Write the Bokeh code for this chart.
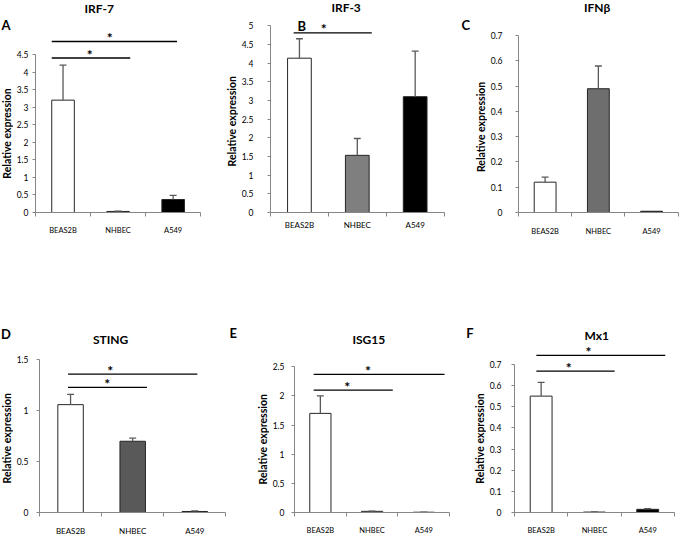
import math
from bokeh.plotting import figure
from bokeh.layouts import row, column
from bokeh.models import Range1d, FixedTicker, CustomJSTickFormatter, Label
from bokeh.embed import file_html
from bokeh.resources import INLINE
from bokeh.core.properties import value

# ---------------- data ----------------
cells = ["BEAS2B", "NHBEC", "A549"]

irf7 = [3.20, 0.03, 0.37]
irf7_err = [1.00, 0.01, 0.12]
irf3 = [4.13, 1.53, 3.10]
irf3_err = [0.52, 0.45, 1.22]
ifnb = [0.12, 0.49, 0.005]
ifnb_err = [0.02, 0.09, 0.0]
sting = [1.055, 0.697, 0.01]
sting_err = [0.10, 0.03, 0.005]
isg15 = [1.70, 0.02, 0.005]
isg15_err = [0.30, 0.005, 0.002]
mx1 = [0.55, 0.002, 0.015]
mx1_err = [0.065, 0.001, 0.003]

irf7_ticks = [0, 0.5, 1, 1.5, 2, 2.5, 3, 3.5, 4, 4.5]
irf3_ticks = [0, 0.5, 1, 1.5, 2, 2.5, 3, 3.5, 4, 4.5, 5]
ifnb_ticks = [0, 0.1, 0.2, 0.3, 0.4, 0.5, 0.6, 0.7]
sting_ticks = [0, 0.5, 1, 1.5]
isg15_ticks = [0, 0.5, 1, 1.5, 2, 2.5]
mx1_ticks = [0, 0.1, 0.2, 0.3, 0.4, 0.5, 0.6, 0.7]

titles = ["IRF-7", "IRF-3", "IFNβ", "STING", "ISG15", "Mx1"]
letters = ["A", "B", "C", "D", "E", "F"]
ylabel = "Relative expression"

# significance brackets (pairs of cells compared)
irf7_sig = [("BEAS2B", "A549"), ("BEAS2B", "NHBEC")]
irf3_sig = [("BEAS2B", "NHBEC")]
ifnb_sig = []
sting_sig = [("BEAS2B", "A549"), ("BEAS2B", "NHBEC")]
isg15_sig = [("BEAS2B", "A549"), ("BEAS2B", "NHBEC")]
mx1_sig = [("BEAS2B", "A549"), ("BEAS2B", "NHBEC")]

# ---------------- layout / style config ----------------
FONT = "Lato"
AXIS_COLOR = "#868686"
ERR_COLOR = "#595959"

# canvas = (left, top, width, height) on the page; axis_x / axis_right / axis_y /
# top_tick_y = page pixels of the axes; brackets = (x0, x1, y, star_x) in data units
configs = [
    dict(canvas=(21, 8, 225, 282), axis_x=42, axis_right=208, axis_y=220, top_tick_y=62,
         xs=9, ys=4, xfs="7.5px", gray="#7f7f7f",
         brackets=[(0.295, 2.57, 4.87, 1.35), (0.295, 1.72, 4.40, 0.985)]),
    dict(canvas=(246, 8, 249, 282), axis_x=275, axis_right=451, axis_y=221, top_tick_y=33.3,
         xs=3, ys=14, xfs="8px", gray="#7f7f7f",
         brackets=[(0.40, 1.75, 4.81, 0.92)]),
    dict(canvas=(495, 8, 193, 282), axis_x=524, axis_right=685.7, axis_y=225, top_tick_y=44,
         xs=10, ys=13, xfs="7.5px", gray="#6e6e6e",
         brackets=[]),
    dict(canvas=(21, 290, 256, 256), axis_x=45, axis_right=233, axis_y=524, top_tick_y=368,
         xs=9, ys=8, xfs="8px", gray="#595959",
         brackets=[(0.46, 2.54, 1.353, 1.14), (0.46, 1.73, 1.225, 1.09)]),
    dict(canvas=(277, 290, 217, 256), axis_x=301, axis_right=457, axis_y=524, top_tick_y=375.7,
         xs=9, ys=7, xfs="7.5px", gray="#bfbfbf",
         brackets=[(0.37, 2.90, 2.37, 1.42), (0.37, 1.90, 2.10, 1.02)]),
    dict(canvas=(494, 290, 194, 256), axis_x=521, axis_right=681.8, axis_y=524, top_tick_y=373.3,
         xs=9, ys=10, xfs="7.5px", gray="#7f7f7f",
         brackets=[(0.41, 2.83, 0.743, 1.39), (0.41, 1.88, 0.668, 1.02)]),
]

datasets = [
    (irf7, irf7_err, irf7_ticks, irf7_sig),
    (irf3, irf3_err, irf3_ticks, irf3_sig),
    (ifnb, ifnb_err, ifnb_ticks, ifnb_sig),
    (sting, sting_err, sting_ticks, sting_sig),
    (isg15, isg15_err, isg15_ticks, isg15_sig),
    (mx1, mx1_err, mx1_ticks, mx1_sig),
]

# text placements: (host figure, page x, page y, text, kind); host "L" = left strip
texts = [
    ("L", 13.5, 32.5, letters[0], "letter"),
    ("L", 14.5, 141.0, ylabel, "ylabel"),
    ("L", 13.5, 341.0, letters[3], "letter"),
    ("L", 14.5, 445.8, ylabel, "ylabel"),
    (0, 106.0, 15.5, titles[0], "title"),
    (0, 239.5, 128.8, ylabel, "ylabel"),
    (1, 351.7, 15.5, titles[1], "title"),
    (1, 306.7, 33.7, letters[1], "letter"),
    (1, 473.0, 33.0, letters[2], "letter"),
    (1, 488.5, 135.0, ylabel, "ylabel"),
    (2, 603.7, 15.5, titles[2], "title"),
    (3, 116.7, 348.0, titles[3], "title"),
    (3, 240.3, 341.5, letters[4], "letter"),
    (3, 270.0, 449.5, ylabel, "ylabel"),
    (4, 375.7, 347.5, titles[4], "title"),
    (4, 477.3, 341.7, letters[5], "letter"),
    (4, 487.0, 448.8, ylabel, "ylabel"),
    (5, 603.7, 343.8, titles[5], "title"),
]

text_style = {
    "title": dict(text_font_size="12px", angle=0),
    "letter": dict(text_font_size="13px", angle=0),
    "ylabel": dict(text_font_size="10.5px", angle=math.pi / 2),
}

transforms = {}


def style_fig(p):
    p.outline_line_color = None
    p.background_fill_color = "white"
    p.border_fill_color = "white"


def make_panel(i):
    cfg = configs[i]
    vals, errs, ticks, sig = datasets[i]
    L, T, W, H = cfg["canvas"]
    bl = int(round(cfg["axis_x"] - L))
    bb = int(round(T + H - cfg["axis_y"]))
    fl = L + bl
    fb = T + H - bb
    ppux = (cfg["axis_right"] - fl) / 3.0
    ppuy = (fb - cfg["top_tick_y"]) / ticks[-1]
    x_end = (W - bl) / ppux
    y_end = (H - bb) / ppuy
    transforms[i] = (fl, fb, ppux, ppuy)

    p = figure(width=W, height=H, x_range=Range1d(0, x_end), y_range=Range1d(0, y_end),
               output_backend="svg", toolbar_location=None, title=None,
               min_border_left=bl, min_border_right=0, min_border_top=0, min_border_bottom=bb)
    style_fig(p)
    p.xgrid.visible = False
    p.ygrid.visible = False

    xs = [k + 0.5 for k in range(len(cells))]
    colors = ["white", cfg["gray"], "black"]
    p.vbar(x=xs, top=vals, width=0.41, fill_color=colors, line_color="#262626", line_width=1)

    # error bars (upper half only, Excel style)
    ex = [x for x, e in zip(xs, errs) if e > 0]
    ey0 = [v for v, e in zip(vals, errs) if e > 0]
    ey1 = [v + e for v, e in zip(vals, errs) if e > 0]
    half = 3.5 / ppux
    p.segment(x0=ex, y0=ey0, x1=ex, y1=ey1, line_color=ERR_COLOR, line_width=1.3)
    p.segment(x0=[x - half for x in ex], y0=ey1, x1=[x + half for x in ex], y1=ey1,
              line_color=ERR_COLOR, line_width=1.3)

    # significance brackets
    if sig:
        br = cfg["brackets"][:len(sig)]
        p.segment(x0=[q[0] for q in br], y0=[q[2] for q in br],
                  x1=[q[1] for q in br], y1=[q[2] for q in br],
                  line_color="black", line_width=1.3)
        p.text(x=[q[3] for q in br], y=[q[2] for q in br], text=["*"] * len(br),
               text_font=value(FONT), text_font_style="bold", text_font_size="14px",
               text_align="center", text_baseline="middle", text_color="black",
               y_offset=-4)

    # x axis: labels at category centres, tick marks between categories
    xa = p.xaxis[0]
    xa.ticker = FixedTicker(ticks=xs, minor_ticks=[0, 1, 2, 3])
    xa.bounds = (0, 3)
    xa.formatter = CustomJSTickFormatter(args=dict(cats=cells),
                                         code="return cats[Math.floor(tick)];")
    xa.major_tick_out = 0
    xa.major_tick_in = 0
    xa.minor_tick_out = 4
    xa.minor_tick_in = 0
    xa.axis_line_color = AXIS_COLOR
    xa.minor_tick_line_color = AXIS_COLOR
    xa.major_label_text_font = FONT
    xa.major_label_text_font_size = cfg["xfs"]
    xa.major_label_text_color = "black"
    xa.major_label_standoff = int(cfg["xs"])

    ya = p.yaxis[0]
    ya.ticker = FixedTicker(ticks=ticks)
    ya.bounds = (0, ticks[-1])
    ya.formatter = CustomJSTickFormatter(code="return String(Math.round(tick*1000)/1000);")
    ya.major_tick_out = 3
    ya.major_tick_in = 0
    ya.minor_tick_out = 0
    ya.minor_tick_in = 0
    ya.axis_line_color = AXIS_COLOR
    ya.major_tick_line_color = AXIS_COLOR
    ya.major_label_text_font = FONT
    ya.major_label_text_font_size = "8.5px"
    ya.major_label_text_color = "black"
    ya.major_label_standoff = int(cfg["ys"])
    return p


panels = [make_panel(i) for i in range(6)]

# narrow strip on the far left holding the panel letters / labels of the first column
strip = figure(width=13, height=538, x_range=Range1d(0, 13), y_range=Range1d(0, 538),
               output_backend="svg", toolbar_location=None, title=None,
               x_axis_type=None, y_axis_type=None,
               min_border_left=0, min_border_right=0, min_border_top=0, min_border_bottom=0)
style_fig(strip)
strip.xgrid.visible = False
strip.ygrid.visible = False
transforms["L"] = (8, 546, 1.0, 1.0)
figs = {"L": strip}
for i in range(6):
    figs[i] = panels[i]

for host, px, py, txt, kind in texts:
    fl, fb, ppux, ppuy = transforms[host]
    st = text_style[kind]
    figs[host].add_layout(Label(x=(px - fl) / ppux, y=(fb - py) / ppuy, text=txt,
                                text_font=FONT, text_font_style="bold",
                                text_font_size=st["text_font_size"], angle=st["angle"],
                                text_align="center", text_baseline="middle",
                                text_color="black"))

layout = row(strip,
             column(row(panels[0], panels[1], panels[2], spacing=0),
                    row(panels[3], panels[4], panels[5], spacing=0), spacing=0),
             spacing=0)

open("out.html", "w").write(file_html(layout, INLINE))
